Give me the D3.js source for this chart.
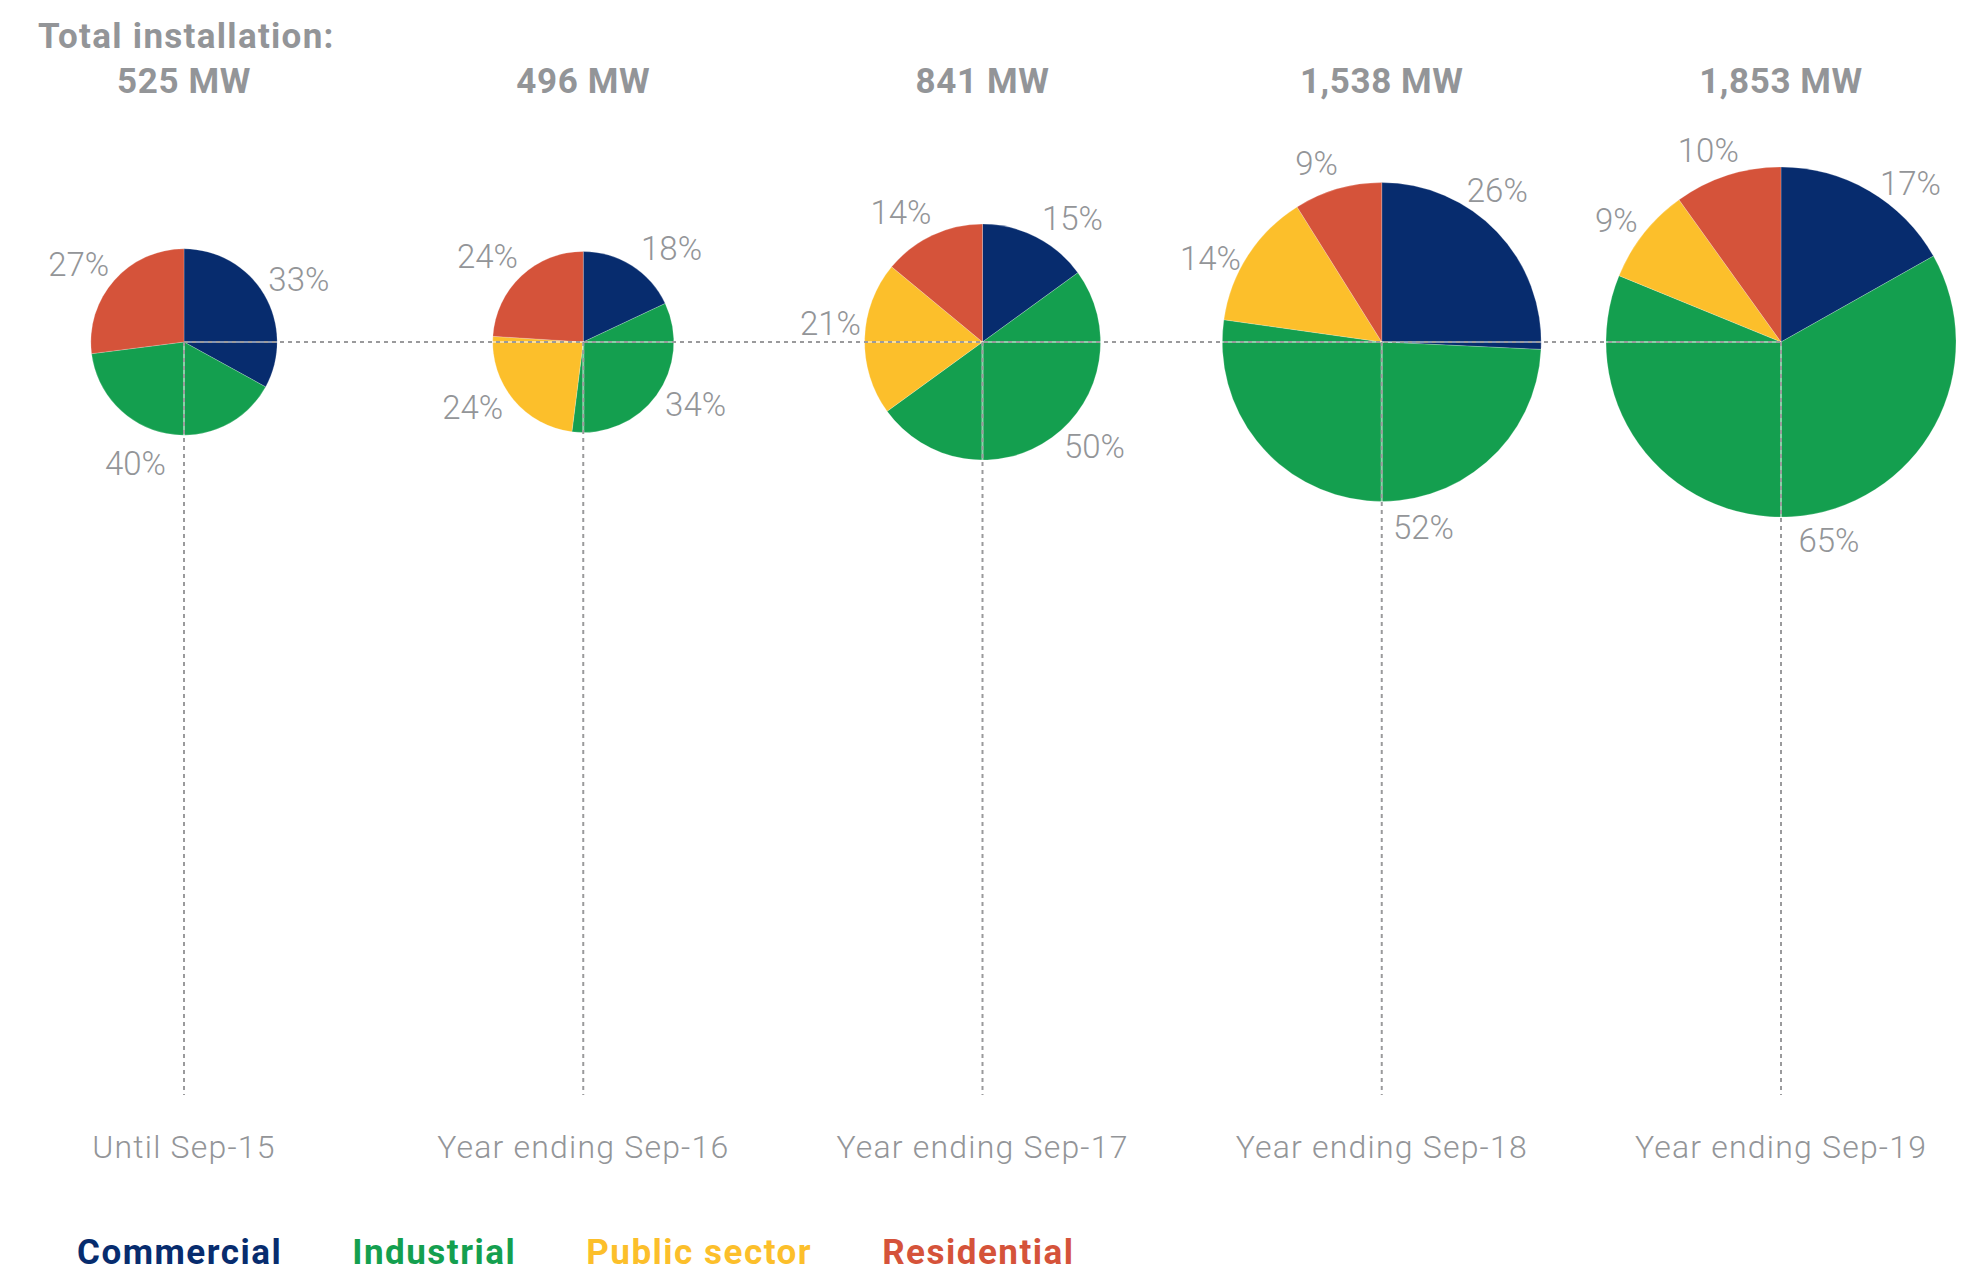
<!DOCTYPE html>
<html>
<head>
<meta charset="utf-8">
<script src="https://cdn.jsdelivr.net/npm/d3@7"></script>
<style>
  body { margin: 0; background: #fff; }
  text { font-family: Roboto, "DejaVu Sans", sans-serif; }
</style>
</head>
<body>
<div class="container"></div>
<script>
(function(){

    var periods = ["Until Sep-15", "Year ending Sep-16", "Year ending Sep-17", "Year ending Sep-18", "Year ending Sep-19"];
    var totals = [525, 496, 841, 1538, 1853];
    var totalLabels = ["525 MW", "496 MW", "841 MW", "1,538 MW", "1,853 MW"];
    var sectors = ["Commercial", "Industrial", "Public sector", "Residential"];
    var commercial = [33, 18, 15, 26, 17];
    var industrial = [40, 34, 50, 52, 65];
    var publicSector = [0, 24, 21, 14, 9];
    var residential = [27, 24, 14, 9, 10];

    var colors = ["#072c6e", "#149f4f", "#fcbf2b", "#d5533a"];
    var grey = "#939598";

    // small angle tweaks (degrees) so labels clear the guide lines
    var labelNudge = [
        [2, 11, 0, -5],
        [11, -7, 9, -5],
        [9, -11, 5, -7],
        [-9, -18, -7, -4],
        [9, -10, -2, -3]
    ];

    var W = 1977, H = 1279, cy = 342;

    var svg = d3.select(".container").append("svg")
        .attr("width", W)
        .attr("height", H);

    var x = d3.scalePoint().domain(periods).range([184, 1781]);
    var r = d3.scaleSqrt().domain([0, d3.max(totals)]).range([0, 175]);
    var color = d3.scaleOrdinal().domain(sectors).range(colors);

    var pie = d3.pie().sort(null).value(function(d) { return d.value; });

    var rows = periods.map(function(p, i) {
        return {
            period: p,
            total: totals[i],
            label: totalLabels[i],
            values: [commercial[i], industrial[i], publicSector[i], residential[i]].map(function(v, j) {
                return { sector: sectors[j], value: v };
            })
        };
    });

    // pies
    var groups = svg.selectAll("g.pie")
        .data(rows)
        .enter().append("g")
        .attr("class", "pie")
        .attr("transform", function(d) { return "translate(" + x(d.period) + "," + cy + ")"; });

    groups.each(function(d) {
        var arc = d3.arc().innerRadius(0).outerRadius(r(d.total));
        d3.select(this).selectAll("path")
            .data(pie(d.values).filter(function(s) { return s.data.value > 0; }))
            .enter().append("path")
            .attr("d", arc)
            .attr("fill", function(s) { return color(s.data.sector); })
            .attr("stroke", "#fff")
            .attr("stroke-opacity", 0.35)
            .attr("stroke-width", 0.6);
    });

    // guide lines on top
    var guides = svg.append("g");
    function guide(x1, y1, x2, y2) {
        guides.append("line")
            .attr("x1", x1).attr("y1", y1).attr("x2", x2).attr("y2", y2)
            .attr("stroke", "#fff").attr("stroke-opacity", 0.5).attr("stroke-width", 2);
        guides.append("line")
            .attr("x1", x1).attr("y1", y1).attr("x2", x2).attr("y2", y2)
            .attr("stroke", "#9a9a9c").attr("stroke-width", 2)
            .attr("stroke-dasharray", "4,4");
    }
    guide(x(periods[0]), cy, x(periods[periods.length - 1]), cy);
    periods.forEach(function(p) { guide(x(p), cy, x(p), 1095); });

    // percentage labels
    groups.each(function(d, i) {
        var rr = r(d.total);
        var rad = rr + 47 - 0.1 * rr;
        d3.select(this).selectAll("text")
            .data(pie(d.values).map(function(s, j) { s.j = j; return s; })
                .filter(function(s) { return s.data.value > 0; }))
            .enter().append("text")
            .attr("x", function(s) {
                var a = (s.startAngle + s.endAngle) / 2 + labelNudge[i][s.j] * Math.PI / 180;
                return Math.sin(a) * rad;
            })
            .attr("y", function(s) {
                var a = (s.startAngle + s.endAngle) / 2 + labelNudge[i][s.j] * Math.PI / 180;
                return -Math.cos(a) * rad;
            })
            .attr("text-anchor", "middle")
            .attr("dominant-baseline", "central")
            .attr("font-size", 33)
            .attr("font-weight", 300)
            .attr("fill", grey)
            .text(function(s) { return s.data.value + "%"; });
    });

    // headings
    svg.append("text")
        .attr("x", 38).attr("y", 48)
        .attr("font-size", 35).attr("font-weight", 700)
        .attr("letter-spacing", 1.3)
        .attr("fill", grey)
        .text("Total installation:");

    svg.selectAll("text.total")
        .data(rows)
        .enter().append("text")
        .attr("class", "total")
        .attr("x", function(d) { return x(d.period); })
        .attr("y", 93)
        .attr("text-anchor", "middle")
        .attr("font-size", 35).attr("font-weight", 700)
        .attr("letter-spacing", 0.6)
        .attr("fill", grey)
        .text(function(d) { return d.label; });

    // period labels
    svg.selectAll("text.period")
        .data(periods)
        .enter().append("text")
        .attr("class", "period")
        .attr("x", function(d) { return x(d); })
        .attr("y", 1158)
        .attr("text-anchor", "middle")
        .attr("font-size", 32).attr("font-weight", 300)
        .attr("letter-spacing", 1.2)
        .attr("fill", grey)
        .text(function(d) { return d; });

    // legend
    var lx = 77;
    sectors.forEach(function(s) {
        var t = svg.append("text")
            .attr("x", lx).attr("y", 1264)
            .attr("font-size", 35).attr("font-weight", 700)
            .attr("letter-spacing", 1.5)
            .attr("fill", color(s))
            .text(s);
        lx += t.node().getComputedTextLength() + 70;
    });

})();
</script>
</body>
</html>
